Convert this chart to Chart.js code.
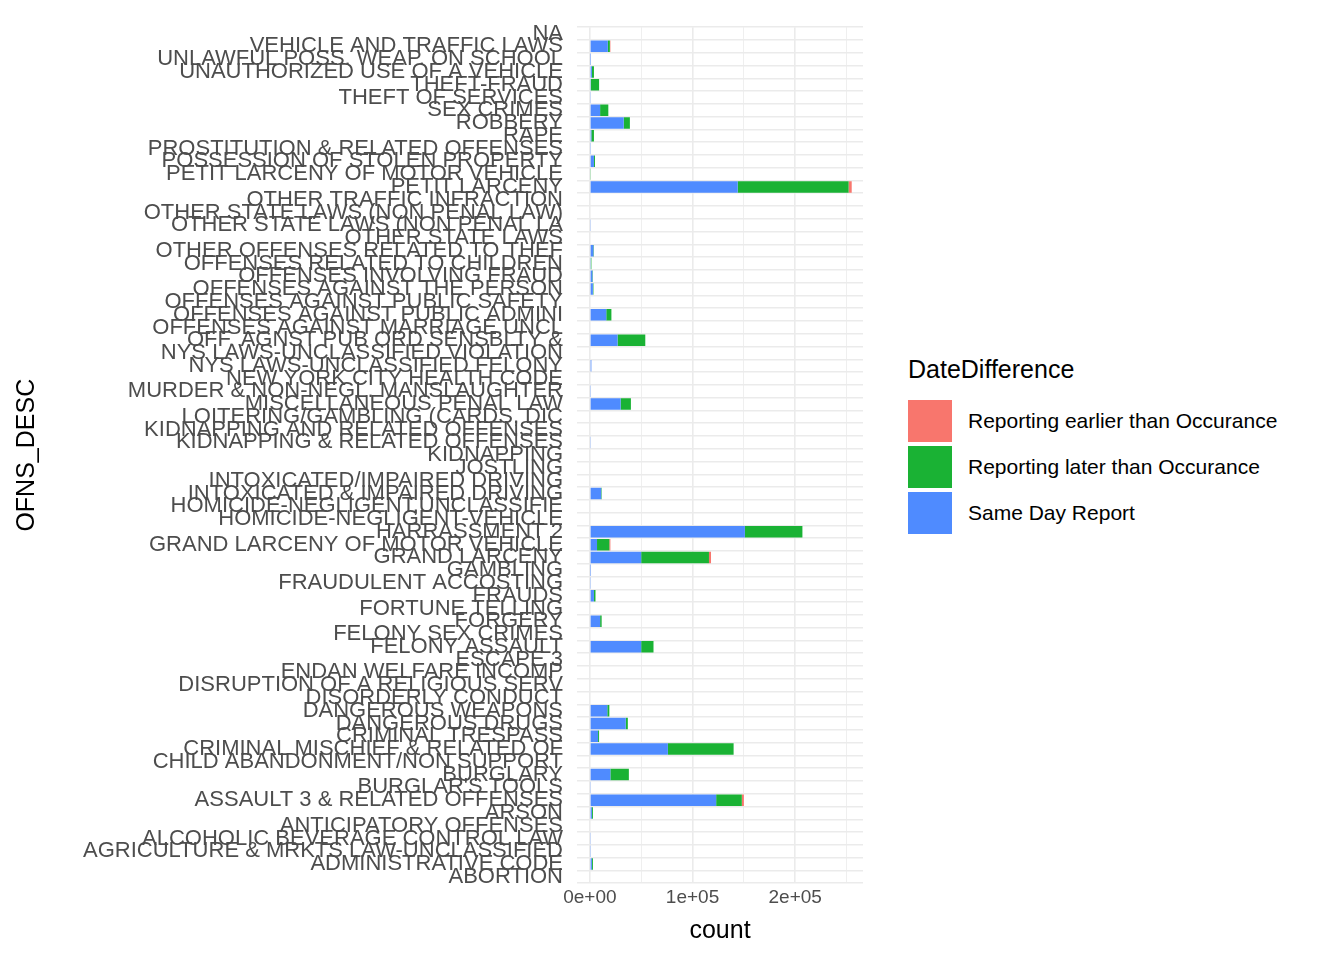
<!DOCTYPE html>
<html>
<head>
<meta charset="utf-8">
<script src="https://cdn.jsdelivr.net/npm/chart.js@4"></script>
<style>
  body { margin: 0; background: #fff; font-family: "Liberation Sans", Arial, sans-serif; }
  #wrap { position: relative; width: 1344px; height: 960px; }
  #box { position: absolute; left: 0; top: 0; width: 875px; height: 960px; }
  #legend { position: absolute; left: 908px; top: 355px; color: #000; }
  #legend .title { font-size: 25px; margin-bottom: 14px; }
  #legend .item { display: flex; align-items: center; height: 46px; font-size: 21px; }
  #legend .sw { width: 44px; height: 42px; margin-right: 16px; }
</style>
</head>
<body>
<div id="wrap">
  <div id="box"><canvas id="myChart"></canvas></div>
  <div id="legend">
    <div class="title">DateDifference</div>
    <div class="item"><div class="sw" style="background:#F8766D"></div>Reporting earlier than Occurance</div>
    <div class="item"><div class="sw" style="background:#1AB234"></div>Reporting later than Occurance</div>
    <div class="item"><div class="sw" style="background:#4F8BFF"></div>Same Day Report</div>
  </div>
</div>
<script>
const categories = ['NA','VEHICLE AND TRAFFIC LAWS','UNLAWFUL POSS. WEAP. ON SCHOOL','UNAUTHORIZED USE OF A VEHICLE','THEFT-FRAUD','THEFT OF SERVICES','SEX CRIMES','ROBBERY','RAPE','PROSTITUTION & RELATED OFFENSES','POSSESSION OF STOLEN PROPERTY','PETIT LARCENY OF MOTOR VEHICLE','PETIT LARCENY','OTHER TRAFFIC INFRACTION','OTHER STATE LAWS (NON PENAL LAW)','OTHER STATE LAWS (NON PENAL LA','OTHER STATE LAWS','OTHER OFFENSES RELATED TO THEF','OFFENSES RELATED TO CHILDREN','OFFENSES INVOLVING FRAUD','OFFENSES AGAINST THE PERSON','OFFENSES AGAINST PUBLIC SAFETY','OFFENSES AGAINST PUBLIC ADMINI','OFFENSES AGAINST MARRIAGE UNCL','OFF. AGNST PUB ORD SENSBLTY &','NYS LAWS-UNCLASSIFIED VIOLATION','NYS LAWS-UNCLASSIFIED FELONY','NEW YORK CITY HEALTH CODE','MURDER & NON-NEGL. MANSLAUGHTER','MISCELLANEOUS PENAL LAW','LOITERING/GAMBLING (CARDS, DIC','KIDNAPPING AND RELATED OFFENSES','KIDNAPPING & RELATED OFFENSES','KIDNAPPING','JOSTLING','INTOXICATED/IMPAIRED DRIVING','INTOXICATED & IMPAIRED DRIVING','HOMICIDE-NEGLIGENT,UNCLASSIFIE','HOMICIDE-NEGLIGENT-VEHICLE','HARRASSMENT 2','GRAND LARCENY OF MOTOR VEHICLE','GRAND LARCENY','GAMBLING','FRAUDULENT ACCOSTING','FRAUDS','FORTUNE TELLING','FORGERY','FELONY SEX CRIMES','FELONY ASSAULT','ESCAPE 3','ENDAN WELFARE INCOMP','DISRUPTION OF A RELIGIOUS SERV','DISORDERLY CONDUCT','DANGEROUS WEAPONS','DANGEROUS DRUGS','CRIMINAL TRESPASS','CRIMINAL MISCHIEF & RELATED OF','CHILD ABANDONMENT/NON SUPPORT','BURGLARY',"BURGLAR'S TOOLS",'ASSAULT 3 & RELATED OFFENSES','ARSON','ANTICIPATORY OFFENSES','ALCOHOLIC BEVERAGE CONTROL LAW','AGRICULTURE & MRKTS LAW-UNCLASSIFIED','ADMINISTRATIVE CODE','ABORTION'];

const earlier = [0,500,0,0,0,0,0,0,0,0,0,0,3000,0,0,0,0,0,0,0,0,0,0,0,0,0,0,0,0,0,0,0,0,0,0,0,0,0,0,0,1000,2000,0,0,0,0,0,0,0,0,0,0,0,0,0,0,0,0,0,0,2000,0,0,0,0,0,0];
const later = [0,2000,0,2000,8000,0,8000,6000,2500,0,1000,1000,108000,0,0,0,0,500,500,500,500,0,5000,0,27000,0,0,0,0,10000,0,0,0,0,0,0,500,0,0,56000,12000,66000,0,0,1500,0,1500,0,12000,0,0,0,0,2000,2000,1000,64000,0,18000,0,25000,1000,0,0,0,1000,0];
const sameDay = [0,17500,300,2000,1000,1000,10000,33000,1500,500,4000,0,144000,0,0,1000,0,3500,1000,2500,3000,0,16000,0,27000,0,1500,0,500,30000,0,0,1000,0,0,0,11000,0,0,151000,7000,50000,300,500,4000,0,10000,0,50000,0,0,0,0,17000,35000,8000,76000,0,20000,1000,123000,2000,0,1000,500,2000,0];

const xTicks = [0, 50000, 100000, 150000, 200000, 250000];
const tickLabels = { 0: '0e+00', 100000: '1e+05', 200000: '2e+05' };

const ctx = document.getElementById('myChart');
new Chart(ctx, {
  type: 'bar',
  data: {
    labels: categories,
    datasets: [
      { label: 'Reporting earlier than Occurance', data: earlier, backgroundColor: '#F8766D' },
      { label: 'Reporting later than Occurance', data: later, backgroundColor: '#1AB234' },
      { label: 'Same Day Report', data: sameDay, backgroundColor: '#4F8BFF' }
    ].reverse()
  },
  options: {
    indexAxis: 'y',
    responsive: true,
    maintainAspectRatio: false,
    animation: false,
    layout: { padding: { top: 8, bottom: 10, right: 12, left: 8 } },
    datasets: { bar: { barPercentage: 0.9, categoryPercentage: 1.0 } },
    plugins: { legend: { display: false }, tooltip: { enabled: false } },
    scales: {
      x: {
        stacked: true,
        min: -12500,
        max: 266000,
        afterBuildTicks: axis => { axis.ticks = xTicks.map(v => ({ value: v })); },
        ticks: {
          color: '#4d4d4d',
          font: { size: 19, family: 'Liberation Sans' },
          maxRotation: 0,
          callback: v => tickLabels[v] || ''
        },
        grid: {
          color: '#ebebeb',
          lineWidth: ctx => (ctx.tick && ctx.tick.value % 100000 === 0 ? 1.6 : 0.8),
          drawTicks: false
        },
        border: { display: false },
        title: { display: true, text: 'count', color: '#000', font: { size: 25, family: 'Liberation Sans' } }
      },
      y: {
        stacked: true,
        afterFit: axis => { axis.width = 569; },
        ticks: {
          autoSkip: false,
          color: '#4d4d4d',
          font: { size: 22, family: 'Liberation Sans' },
          padding: 14
        },
        grid: { color: '#ebebeb', lineWidth: 1.6, drawTicks: false },
        border: { display: false },
        title: { display: true, text: 'OFNS_DESC', color: '#000', font: { size: 25, family: 'Liberation Sans' } }
      }
    }
  }
});
</script>
</body>
</html>
